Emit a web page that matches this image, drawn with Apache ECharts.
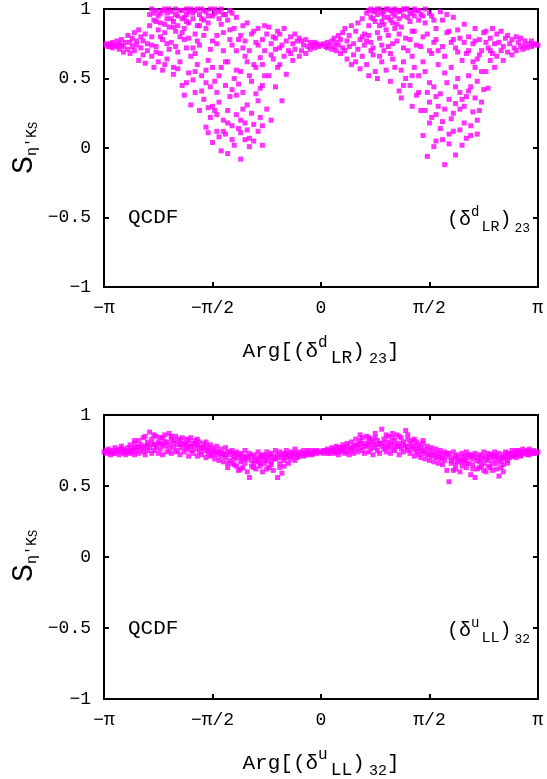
<!DOCTYPE html>
<html>
<head>
<meta charset="utf-8">
<script src="https://cdn.jsdelivr.net/npm/echarts@6/dist/echarts.min.js"></script>
<style>
  html, body { margin: 0; padding: 0; background: #fff; }
  #chart { width: 547px; height: 779px; }
</style>
</head>
<body>
<div id="chart"></div>
<script>
// x values are in units of pi, so -1 .. 1 means -pi .. pi
const xTickLabels = ['−π', '−π/2', '0', 'π/2', 'π']
const yTickLabels = ['−1', '−0.5', '0', '0.5', '1']

// upper panel: (delta^d_LR)_23 scan
const topLeftHalf = [
  [-0.99,0.74],[-0.98,0.73],[-0.97,0.75],[-0.96,0.72],[-0.96,0.76],[-0.95,0.74],[-0.99,0.75],[-0.97,0.73],
  [-0.94,0.77],[-0.93,0.71],[-0.93,0.75],[-0.92,0.78],[-0.91,0.73],[-0.91,0.69],[-0.90,0.76],[-0.94,0.73],[-0.92,0.74],
  [-0.89,0.81],[-0.89,0.71],[-0.88,0.76],[-0.88,0.68],[-0.87,0.79],[-0.87,0.73],[-0.86,0.83],[-0.86,0.70],[-0.85,0.77],[-0.85,0.74],
  [-0.84,0.85],[-0.84,0.63],[-0.83,0.80],[-0.83,0.72],[-0.82,0.67],[-0.82,0.77],[-0.81,0.82],[-0.81,0.61],[-0.80,0.75],[-0.80,0.70],
  [-0.79,0.96],[-0.79,0.88],[-0.78,0.66],[-0.78,0.80],[-0.77,0.92],[-0.77,0.58],[-0.76,0.73],[-0.76,0.99],[-0.75,0.85],[-0.75,0.62],[-0.78,0.74],[-0.76,0.69],
  [-0.74,0.97],[-0.74,0.90],[-0.73,0.78],[-0.73,0.56],[-0.72,1.00],[-0.72,0.83],[-0.71,0.64],[-0.71,0.93],[-0.70,0.71],[-0.70,0.87],[-0.72,0.60],[-0.74,0.68],
  [-0.69,0.98],[-0.69,0.76],[-0.68,0.91],[-0.68,0.58],[-0.67,1.00],[-0.67,0.84],[-0.66,0.69],[-0.66,0.95],[-0.65,0.62],[-0.65,0.80],[-0.68,0.53],[-0.66,0.88],
  [-0.64,0.99],[-0.64,0.45],[-0.63,0.86],[-0.63,0.38],[-0.62,0.96],[-0.62,0.72],[-0.61,0.54],[-0.61,0.90],[-0.60,0.31],[-0.60,0.66],[-0.63,0.78],[-0.62,1.00],
  [-0.59,0.97],[-0.59,0.49],[-0.58,0.82],[-0.58,0.40],[-0.57,1.00],[-0.57,0.60],[-0.56,0.74],[-0.56,0.27],[-0.55,0.93],[-0.55,0.52],[-0.58,0.68],[-0.56,0.88],
  [-0.54,0.99],[-0.54,0.35],[-0.53,0.86],[-0.53,0.15],[-0.52,0.95],[-0.52,0.63],[-0.51,0.44],[-0.51,0.22],[-0.50,0.77],[-0.50,0.04],[-0.53,0.56],[-0.51,1.00],[-0.52,0.29],
  [-0.49,0.97],[-0.49,0.48],[-0.48,0.12],[-0.48,0.81],[-0.47,0.33],[-0.47,0.93],[-0.46,0.58],[-0.46,-0.02],[-0.45,0.70],[-0.45,0.20],[-0.48,0.40],[-0.46,1.00],[-0.47,0.08],[-0.49,0.27],
  [-0.44,0.96],[-0.44,0.10],[-0.43,0.62],[-0.43,-0.04],[-0.42,0.85],[-0.42,0.37],[-0.41,0.16],[-0.41,0.74],[-0.40,0.50],[-0.40,0.02],[-0.43,0.27],[-0.42,0.99],[-0.44,0.45],
  [-0.39,0.94],[-0.39,0.38],[-0.38,0.78],[-0.38,0.14],[-0.37,0.55],[-0.37,-0.08],[-0.36,0.88],[-0.36,0.28],[-0.35,0.66],[-0.35,0.06],[-0.38,0.46],[-0.37,0.20],[-0.36,0.72],
  [-0.34,0.90],[-0.34,0.31],[-0.33,0.70],[-0.33,0.07],[-0.32,0.48],[-0.32,0.82],[-0.31,0.17],[-0.31,0.60],[-0.30,0.39],[-0.30,0.76],[-0.33,0.01],[-0.32,0.25],
  [-0.29,0.86],[-0.29,0.34],[-0.28,0.65],[-0.28,0.22],[-0.27,0.78],[-0.27,0.02],[-0.26,0.52],[-0.26,0.70],[-0.25,0.28],[-0.25,0.82],[-0.28,0.43],
  [-0.24,0.87],[-0.24,0.52],[-0.23,0.75],[-0.23,0.20],[-0.22,0.64],[-0.22,0.80],[-0.21,0.44],[-0.21,0.71],[-0.20,0.58],[-0.20,0.84],
  [-0.19,0.82],[-0.19,0.60],[-0.18,0.74],[-0.18,0.34],[-0.17,0.66],[-0.17,0.86],[-0.16,0.53],[-0.16,0.77],[-0.15,0.70],
  [-0.14,0.80],[-0.14,0.68],[-0.13,0.75],[-0.13,0.63],[-0.12,0.82],[-0.12,0.71],[-0.11,0.77],[-0.10,0.66],[-0.10,0.79],
  [-0.09,0.77],[-0.09,0.70],[-0.08,0.74],[-0.07,0.78],[-0.07,0.68],[-0.06,0.73],[-0.05,0.76],[-0.05,0.71],
  [-0.04,0.74],[-0.03,0.76],[-0.03,0.72],[-0.02,0.75],[-0.01,0.73],[0.00,0.74],
  [-0.78,1.00],[-0.77,0.97],[-0.75,0.95],[-0.73,0.99],[-0.71,0.97],[-0.70,1.00],[-0.69,0.93],[-0.67,0.96],[-0.65,0.99],[-0.64,0.93],
  [-0.62,0.91],[-0.61,0.98],[-0.60,1.00],[-0.59,0.93],[-0.58,0.99],[-0.56,0.96],[-0.55,1.00],[-0.54,0.92],[-0.53,0.98],[-0.50,0.95],
  [-0.49,1.00],[-0.47,0.98],[-0.45,0.96],[-0.43,0.92],[-0.41,0.97],[-0.76,0.91],[-0.72,0.89],[-0.68,0.87],[-0.63,0.94],[-0.57,0.88],
  [-0.52,0.90],[-0.46,0.89],
  [-0.74,0.80],[-0.71,0.75],[-0.67,0.73],[-0.64,0.83],[-0.61,0.79],[-0.59,0.72],[-0.57,0.77],[-0.54,0.81],[-0.51,0.71],[-0.48,0.75],
  [-0.45,0.83],[-0.42,0.78],[-0.40,0.86],[-0.39,0.70],[-0.37,0.81],[-0.35,0.77],[-0.34,0.62],[-0.31,0.84],[-0.29,0.74],[-0.27,0.60],
  [-0.26,0.88],[-0.23,0.67],[-0.21,0.79],[-0.19,0.72],
  [-0.66,0.57],[-0.62,0.47],[-0.58,0.55],[-0.55,0.41],[-0.53,0.47],[-0.50,0.58],[-0.47,0.52],[-0.44,0.62],[-0.41,0.42],[-0.39,0.56],
  [-0.36,0.40],[-0.33,0.52],[-0.30,0.58],[-0.27,0.45],
  [-0.52,0.11],[-0.50,0.30],[-0.48,0.24],[-0.45,0.12],[-0.43,0.18],[-0.41,0.06],[-0.39,0.24],[-0.37,0.11],[-0.35,0.18],[-0.34,0.13],
  [-0.31,0.05],[-0.29,0.12],[-0.27,0.16]
]

const topRightHalf = [
  [0.01,0.75],[0.02,0.73],[0.03,0.76],[0.03,0.72],[0.04,0.74],[0.05,0.77],[0.05,0.71],
  [0.06,0.79],[0.06,0.73],[0.07,0.70],[0.07,0.76],[0.08,0.81],[0.08,0.74],[0.09,0.68],[0.09,0.78],[0.10,0.72],[0.10,0.83],
  [0.11,0.86],[0.11,0.70],[0.12,0.77],[0.12,0.64],[0.13,0.81],[0.13,0.73],[0.14,0.60],[0.14,0.88],[0.15,0.75],[0.15,0.67],
  [0.16,0.84],[0.16,0.62],[0.17,0.90],[0.17,0.71],[0.18,0.78],[0.18,0.57],[0.19,0.93],[0.19,0.66],[0.20,0.82],[0.20,0.74],
  [0.21,0.97],[0.21,0.60],[0.22,0.88],[0.22,0.52],[0.23,1.00],[0.23,0.76],[0.24,0.93],[0.24,0.67],[0.25,0.99],[0.25,0.55],[0.22,0.81],[0.24,0.72],
  [0.26,0.96],[0.26,0.50],[0.27,1.00],[0.27,0.79],[0.28,0.91],[0.28,0.62],[0.29,0.98],[0.29,0.70],[0.30,0.85],[0.30,0.56],[0.27,0.66],[0.29,0.94],
  [0.31,1.00],[0.31,0.73],[0.32,0.92],[0.32,0.48],[0.33,0.97],[0.33,0.64],[0.34,0.86],[0.34,0.58],[0.35,0.99],[0.35,0.77],[0.32,0.68],[0.34,0.95],
  [0.36,0.98],[0.36,0.41],[0.37,0.87],[0.37,0.36],[0.38,1.00],[0.38,0.62],[0.39,0.79],[0.39,0.50],[0.40,0.94],[0.40,0.70],[0.37,0.56],[0.39,1.00],
  [0.41,0.97],[0.41,0.45],[0.42,0.84],[0.42,0.30],[0.43,1.00],[0.43,0.58],[0.44,0.74],[0.44,0.38],[0.45,0.92],[0.45,0.52],[0.42,0.66],[0.44,0.99],
  [0.46,0.96],[0.46,0.27],[0.47,0.80],[0.47,0.09],[0.48,0.55],[0.48,0.90],[0.49,0.40],[0.49,-0.06],[0.50,0.70],[0.50,0.18],[0.47,0.62],[0.48,1.00],[0.50,0.33],
  [0.51,0.95],[0.51,0.22],[0.52,0.76],[0.52,0.44],[0.53,0.86],[0.53,0.05],[0.54,0.60],[0.54,0.30],[0.55,0.98],[0.55,0.14],[0.52,0.01],[0.53,0.37],[0.54,0.70],
  [0.56,0.92],[0.56,0.19],[0.57,0.66],[0.57,-0.12],[0.58,0.47],[0.58,0.83],[0.59,0.10],[0.59,0.35],[0.60,0.58],[0.60,0.76],[0.57,0.28],[0.59,0.03],[0.58,0.96],
  [0.61,0.94],[0.61,0.25],[0.62,0.72],[0.62,-0.05],[0.63,0.50],[0.63,0.85],[0.64,0.13],[0.64,0.40],[0.65,0.63],[0.65,0.02],[0.62,0.32],[0.64,0.79],
  [0.66,0.89],[0.66,0.30],[0.67,0.68],[0.67,0.07],[0.68,0.52],[0.68,0.80],[0.69,0.16],[0.69,0.44],[0.70,0.62],[0.70,0.75],[0.67,0.37],[0.69,0.09],
  [0.71,0.86],[0.71,0.36],[0.72,0.64],[0.72,0.10],[0.73,0.78],[0.73,0.27],[0.74,0.55],[0.74,0.70],[0.75,0.42],[0.75,0.83],[0.72,0.48],
  [0.76,0.84],[0.76,0.55],[0.77,0.72],[0.77,0.43],[0.78,0.79],[0.78,0.63],[0.79,0.86],[0.79,0.68],[0.80,0.75],[0.80,0.58],
  [0.81,0.82],[0.81,0.66],[0.82,0.76],[0.83,0.70],[0.83,0.84],[0.84,0.73],[0.84,0.63],[0.85,0.79],
  [0.86,0.81],[0.86,0.69],[0.87,0.75],[0.88,0.78],[0.88,0.67],[0.89,0.72],[0.90,0.80],[0.90,0.70],
  [0.91,0.76],[0.92,0.73],[0.92,0.79],[0.93,0.71],[0.94,0.77],[0.94,0.74],[0.95,0.72],
  [0.96,0.75],[0.97,0.73],[0.97,0.77],[0.98,0.74],[0.99,0.75],[1.00,0.74],
  [0.22,0.99],[0.23,0.94],[0.24,0.98],[0.25,0.91],[0.26,1.00],[0.28,0.97],[0.29,0.89],[0.30,1.00],[0.31,0.94],[0.32,0.99],
  [0.33,0.90],[0.34,1.00],[0.36,0.93],[0.37,0.99],[0.38,0.95],[0.40,1.00],[0.41,0.91],[0.43,0.95],[0.45,0.99],[0.47,0.95],
  [0.50,0.97],[0.52,0.92],[0.27,0.88],[0.35,0.89],[0.42,0.97],
  [0.19,0.80],[0.21,0.77],[0.23,0.70],[0.26,0.83],[0.28,0.74],[0.31,0.81],[0.33,0.75],[0.36,0.82],[0.38,0.72],[0.41,0.78],
  [0.43,0.84],[0.46,0.73],[0.49,0.82],[0.51,0.68],[0.53,0.78],[0.56,0.73],[0.59,0.84],[0.61,0.78],[0.63,0.69],[0.66,0.76],
  [0.68,0.70],[0.71,0.77],[0.73,0.67],[0.76,0.76],[0.78,0.70],
  [0.38,0.45],[0.42,0.52],[0.45,0.40],[0.48,0.27],[0.50,0.47],[0.53,0.24],[0.55,0.39],[0.57,0.54],[0.60,0.21],[0.62,0.44],
  [0.64,0.28],[0.66,0.18],[0.68,0.41],[0.70,0.26],[0.72,0.20],[0.74,0.33],[0.56,0.06],[0.61,0.12],[0.65,0.35],[0.71,0.58]
]

// lower panel: (delta^u_LL)_32 scan
const bottomLeftHalf = [
  [-1.00,0.74],[-0.99,0.75],[-0.99,0.73],[-0.98,0.76],[-0.97,0.74],[-0.97,0.72],[-0.96,0.75],[-0.95,0.77],[-0.95,0.73],
  [-0.94,0.74],[-0.93,0.76],[-0.93,0.72],[-0.92,0.78],[-0.92,0.74],[-0.91,0.73],[-0.91,0.76],[-0.90,0.75],
  [-0.90,0.72],[-0.89,0.77],[-0.89,0.74],[-0.88,0.79],[-0.88,0.73],[-0.87,0.76],[-0.87,0.74],[-0.86,0.80],
  [-0.86,0.72],[-0.85,0.77],[-0.85,0.75],[-0.84,0.82],[-0.84,0.73],[-0.83,0.79],[-0.83,0.76],[-0.82,0.84],[-0.82,0.74],
  [-0.81,0.78],[-0.81,0.72],[-0.80,0.81],[-0.80,0.75],[-0.79,0.88],[-0.79,0.77],
  [-0.78,0.83],[-0.78,0.73],[-0.77,0.79],[-0.77,0.75],[-0.76,0.85],[-0.76,0.77],
  [-0.75,0.81],[-0.75,0.73],[-0.74,0.84],[-0.74,0.76],[-0.73,0.79],[-0.73,0.72],
  [-0.72,0.86],[-0.72,0.78],[-0.71,0.81],[-0.71,0.74],[-0.70,0.87],[-0.70,0.76],
  [-0.69,0.83],[-0.69,0.73],[-0.68,0.80],[-0.68,0.77],[-0.67,0.85],[-0.67,0.74],
  [-0.66,0.82],[-0.66,0.75],[-0.65,0.79],[-0.65,0.72],[-0.64,0.84],[-0.64,0.77],
  [-0.63,0.80],[-0.63,0.74],[-0.62,0.83],[-0.62,0.76],[-0.61,0.78],[-0.61,0.71],
  [-0.60,0.84],[-0.60,0.75],[-0.59,0.80],[-0.59,0.73],[-0.58,0.82],[-0.58,0.76],
  [-0.57,0.79],[-0.57,0.71],[-0.56,0.81],[-0.56,0.74],[-0.55,0.77],[-0.55,0.72],
  [-0.54,0.80],[-0.54,0.75],[-0.53,0.78],[-0.53,0.70],[-0.52,0.76],[-0.52,0.73],
  [-0.51,0.79],[-0.51,0.71],[-0.50,0.77],[-0.50,0.74],[-0.49,0.75],[-0.49,0.69],
  [-0.48,0.78],[-0.48,0.72],[-0.47,0.74],[-0.47,0.68],[-0.46,0.76],[-0.46,0.71],
  [-0.45,0.73],[-0.45,0.67],[-0.44,0.77],[-0.44,0.70],[-0.43,0.74],[-0.43,0.63],[-0.42,0.72],[-0.42,0.68],
  [-0.41,0.75],[-0.41,0.66],[-0.40,0.71],[-0.40,0.69],[-0.39,0.74],[-0.39,0.64],[-0.38,0.70],[-0.38,0.61],
  [-0.37,0.73],[-0.37,0.67],[-0.36,0.69],[-0.36,0.63],[-0.35,0.75],[-0.35,0.66],[-0.34,0.71],[-0.34,0.60],
  [-0.33,0.73],[-0.33,0.56],[-0.32,0.68],[-0.32,0.64],[-0.31,0.72],[-0.31,0.66],[-0.30,0.70],[-0.30,0.62],
  [-0.29,0.74],[-0.29,0.67],[-0.28,0.69],[-0.28,0.64],[-0.27,0.72],[-0.27,0.60],[-0.26,0.71],[-0.26,0.66],
  [-0.25,0.74],[-0.25,0.68],[-0.24,0.70],[-0.24,0.63],[-0.23,0.73],[-0.23,0.67],[-0.22,0.71],[-0.22,0.61],
  [-0.21,0.75],[-0.21,0.69],[-0.20,0.72],[-0.20,0.56],[-0.19,0.74],[-0.19,0.66],[-0.18,0.70],[-0.18,0.59],
  [-0.17,0.73],[-0.17,0.68],[-0.16,0.75],[-0.16,0.70],[-0.15,0.72],[-0.15,0.66],[-0.14,0.74],[-0.14,0.69],
  [-0.13,0.73],[-0.13,0.71],[-0.12,0.76],[-0.12,0.68],[-0.11,0.72],[-0.11,0.70],[-0.10,0.74],[-0.10,0.71],
  [-0.09,0.73],[-0.08,0.75],[-0.08,0.71],[-0.07,0.72],[-0.06,0.74],[-0.06,0.72],[-0.05,0.73],
  [-0.04,0.75],[-0.04,0.72],[-0.03,0.74],[-0.02,0.73],[-0.02,0.75],[-0.01,0.74]
]

const bottomRightHalf = [
  [0.00,0.74],[0.01,0.75],[0.01,0.73],[0.02,0.74],[0.03,0.76],[0.03,0.73],[0.04,0.75],[0.05,0.77],[0.05,0.74],
  [0.06,0.73],[0.06,0.76],[0.07,0.78],[0.07,0.74],[0.08,0.75],[0.08,0.72],[0.09,0.77],[0.09,0.74],[0.10,0.79],[0.10,0.75],
  [0.11,0.73],[0.11,0.77],[0.12,0.80],[0.12,0.74],[0.13,0.76],[0.13,0.72],[0.14,0.81],[0.14,0.75],[0.15,0.78],[0.15,0.73],
  [0.16,0.83],[0.16,0.76],[0.17,0.79],[0.17,0.74],[0.18,0.82],[0.18,0.77],[0.19,0.84],[0.19,0.75],[0.20,0.80],[0.20,0.73],
  [0.21,0.85],[0.21,0.78],[0.22,0.81],[0.22,0.74],[0.23,0.83],[0.23,0.76],[0.24,0.79],[0.24,0.72],[0.25,0.84],[0.25,0.77],
  [0.26,0.82],[0.26,0.75],[0.27,0.80],[0.27,0.73],[0.28,0.90],[0.28,0.78],[0.29,0.83],[0.29,0.76],[0.30,0.81],[0.30,0.74],
  [0.31,0.85],[0.31,0.77],[0.32,0.79],[0.32,0.73],[0.33,0.84],[0.33,0.76],[0.34,0.82],[0.34,0.75],[0.35,0.86],[0.35,0.78],
  [0.36,0.80],[0.36,0.72],[0.37,0.84],[0.37,0.76],[0.38,0.81],[0.38,0.74],[0.39,0.89],[0.39,0.78],[0.40,0.83],[0.40,0.75],
  [0.41,0.80],[0.41,0.73],[0.42,0.82],[0.42,0.76],[0.43,0.78],[0.43,0.71],[0.44,0.81],[0.44,0.74],[0.45,0.79],[0.45,0.72],
  [0.46,0.77],[0.46,0.70],[0.47,0.80],[0.47,0.73],[0.48,0.76],[0.48,0.69],[0.49,0.78],[0.49,0.72],[0.50,0.75],[0.50,0.68],
  [0.51,0.77],[0.51,0.71],[0.52,0.74],[0.52,0.67],[0.53,0.76],[0.53,0.70],[0.54,0.73],[0.54,0.66],[0.55,0.75],[0.55,0.69],
  [0.56,0.72],[0.56,0.65],[0.57,0.74],[0.57,0.68],[0.58,0.71],[0.58,0.61],[0.59,0.73],[0.59,0.53],[0.60,0.70],[0.60,0.66],
  [0.61,0.74],[0.61,0.61],[0.62,0.69],[0.62,0.65],[0.63,0.72],[0.63,0.67],[0.64,0.70],[0.64,0.60],[0.65,0.73],[0.65,0.64],
  [0.66,0.71],[0.66,0.68],[0.67,0.74],[0.67,0.63],[0.68,0.70],[0.68,0.66],[0.69,0.72],[0.69,0.58],[0.70,0.69],[0.70,0.65],
  [0.71,0.73],[0.71,0.56],[0.72,0.70],[0.72,0.62],[0.73,0.72],[0.73,0.67],[0.74,0.69],[0.74,0.64],[0.75,0.74],[0.75,0.66],
  [0.76,0.71],[0.76,0.60],[0.77,0.73],[0.77,0.68],[0.78,0.70],[0.78,0.63],[0.79,0.72],[0.79,0.66],[0.80,0.74],[0.80,0.69],
  [0.81,0.71],[0.81,0.62],[0.82,0.73],[0.82,0.57],[0.83,0.70],[0.83,0.67],[0.84,0.72],[0.84,0.65],[0.85,0.74],[0.85,0.69],
  [0.86,0.71],[0.86,0.68],[0.87,0.73],[0.87,0.70],[0.88,0.75],[0.88,0.72],[0.89,0.71],[0.89,0.74],[0.90,0.73],[0.90,0.70],
  [0.91,0.75],[0.91,0.72],[0.92,0.74],[0.92,0.71],[0.93,0.76],[0.93,0.73],[0.94,0.74],[0.95,0.72],[0.95,0.75],
  [0.96,0.74],[0.96,0.76],[0.97,0.73],[0.98,0.75],[0.98,0.74],[0.99,0.73],[1.00,0.74]
]

// extra points filling the dense core of the lower band
const bottomCore = [
  [-0.98,0.74],[-0.96,0.73],[-0.94,0.75],[-0.92,0.76],[-0.90,0.74],[-0.88,0.75],[-0.86,0.77],[-0.84,0.78],[-0.82,0.77],[-0.80,0.79],
  [-0.78,0.80],[-0.76,0.79],[-0.74,0.80],[-0.72,0.81],[-0.70,0.79],[-0.68,0.82],[-0.66,0.79],[-0.64,0.80],[-0.62,0.79],[-0.60,0.78],
  [-0.58,0.79],[-0.56,0.77],[-0.54,0.77],[-0.52,0.75],[-0.50,0.72],[-0.48,0.74],[-0.46,0.73],[-0.44,0.72],[-0.42,0.74],[-0.40,0.73],
  [-0.38,0.72],[-0.36,0.71],[-0.34,0.69],[-0.32,0.71],[-0.30,0.68],[-0.28,0.71],[-0.26,0.69],[-0.24,0.72],[-0.22,0.69],[-0.20,0.70],
  [-0.18,0.72],[-0.16,0.72],[-0.14,0.71],[-0.12,0.73],[-0.10,0.72],[-0.08,0.73],[-0.06,0.75],[-0.04,0.73],[-0.02,0.74],
  [0.02,0.75],[0.04,0.73],[0.06,0.75],[0.08,0.77],[0.10,0.76],[0.12,0.78],[0.14,0.77],[0.16,0.79],[0.18,0.80],[0.20,0.78],
  [0.22,0.79],[0.24,0.81],[0.26,0.79],[0.28,0.80],[0.30,0.78],[0.32,0.81],[0.34,0.79],[0.36,0.78],[0.38,0.79],[0.40,0.77],
  [0.42,0.78],[0.44,0.76],[0.46,0.75],[0.48,0.74],[0.50,0.72],[0.52,0.72],[0.54,0.71],[0.56,0.70],[0.58,0.73],[0.60,0.68],
  [0.62,0.71],[0.64,0.68],[0.66,0.69],[0.68,0.72],[0.70,0.71],[0.72,0.68],[0.74,0.71],[0.76,0.69],[0.78,0.72],[0.80,0.71],
  [0.82,0.69],[0.84,0.70],[0.86,0.73],[0.88,0.71],[0.90,0.75],[0.92,0.72],[0.94,0.73],[0.96,0.72],[0.98,0.73],
  [-0.40,0.65],[-0.37,0.62],[-0.35,0.70],[-0.31,0.63],[-0.28,0.66],[-0.25,0.62],[-0.23,0.65],[-0.19,0.63],[-0.17,0.64],[-0.43,0.66],
  [0.62,0.62],[0.65,0.67],[0.67,0.66],[0.70,0.62],[0.73,0.63],[0.75,0.61],[0.77,0.64],[0.79,0.61],[0.81,0.66],[0.83,0.63],
  [0.86,0.66],[0.84,0.60],
  [-0.86,0.82],[-0.81,0.85],[-0.77,0.86],[-0.73,0.84],[-0.69,0.85],[-0.65,0.83],[-0.61,0.82],[-0.57,0.83],[-0.53,0.81],
  [0.18,0.86],[0.22,0.84],[0.25,0.87],[0.30,0.86],[0.33,0.87],[0.36,0.85],[0.40,0.86],[0.43,0.83],[0.47,0.82]
]

const FONT = '"Liberation Mono", "DejaVu Sans Mono", monospace'
const MAGENTA = '#ff00ff'

const chart = echarts.init(document.getElementById('chart'))

function xAxes(gridIndex) {
  const base = {
    type: 'value', gridIndex: gridIndex, min: -1, max: 1, interval: 0.5,
    axisLine: { show: true, onZero: false, lineStyle: { color: '#000', width: 2 } },
    axisTick: { show: true, inside: true, length: 5, lineStyle: { color: '#000', width: 2 } },
    splitLine: { show: false }
  }
  return [
    Object.assign({}, base, {
      position: 'bottom',
      axisLabel: {
        show: true, margin: 12, color: '#000', fontFamily: FONT, fontSize: 18,
        formatter: function (v) { return xTickLabels[Math.round((v + 1) / 0.5)] }
      }
    }),
    Object.assign({}, base, { position: 'top', axisLabel: { show: false } })
  ]
}

function yAxes(gridIndex) {
  const base = {
    type: 'value', gridIndex: gridIndex, min: -1, max: 1, interval: 0.5,
    axisLine: { show: true, onZero: false, lineStyle: { color: '#000', width: 2 } },
    axisTick: { show: true, inside: true, length: 5, lineStyle: { color: '#000', width: 2 } },
    splitLine: { show: false }
  }
  return [
    Object.assign({}, base, {
      position: 'left',
      axisLabel: {
        show: true, margin: 13, color: '#000', fontFamily: FONT, fontSize: 18,
        formatter: function (v) { return yTickLabels[Math.round((v + 1) / 0.5)] }
      }
    }),
    Object.assign({}, base, { position: 'right', axisLabel: { show: false } })
  ]
}

// axis title below each panel
const titleRich = {
  n: { fontFamily: FONT, fontSize: 21, lineHeight: 32, color: '#000' },
  sup: { fontFamily: FONT, fontSize: 16, lineHeight: 15, verticalAlign: 'top', color: '#000' },
  sub: { fontFamily: FONT, fontSize: 18, lineHeight: 15, verticalAlign: 'bottom', padding: [0, 0, 0, 3], color: '#000' },
  idx: { fontFamily: FONT, fontSize: 15, lineHeight: 14, verticalAlign: 'bottom', padding: [0, 0, 0, 4], color: '#000' }
}

// label in the lower right corner of each panel
const cornerRich = {
  n: { fontFamily: FONT, fontSize: 20, lineHeight: 30, color: '#000' },
  sup: { fontFamily: FONT, fontSize: 14, lineHeight: 14, verticalAlign: 'top', color: '#000' },
  sub: { fontFamily: FONT, fontSize: 15, lineHeight: 13, verticalAlign: 'bottom', padding: [0, 0, 0, 2], color: '#000' },
  idx: { fontFamily: FONT, fontSize: 13, lineHeight: 12, verticalAlign: 'bottom', padding: [0, 0, 0, 3], color: '#000' }
}

const yRich = {
  big: { fontFamily: FONT, fontSize: 30, lineHeight: 32, color: '#000' },
  s1: { fontFamily: FONT, fontSize: 15, lineHeight: 16, verticalAlign: 'bottom', color: '#000' },
  s2: { fontFamily: FONT, fontSize: 12, lineHeight: 10, verticalAlign: 'bottom', color: '#000' }
}

function panelTexts(top, h, sup, sub, idx) {
  const mathText = '(δ}{sup|' + sup + '}{sub|' + sub + '}{n|)}{idx|' + idx + '}'
  return [
    {
      type: 'text', x: 24, y: top + 141, rotation: Math.PI / 2, z: 10,
      style: {
        text: '{big|S}{s1|η\'K}{s2|S}', rich: yRich,
        align: 'center', verticalAlign: 'middle'
      }
    },
    {
      type: 'text', x: 128, y: top + h * 0.75, z: 10,
      style: {
        text: 'QCDF', fontFamily: FONT, fontSize: 21, fill: '#000',
        align: 'left', verticalAlign: 'middle'
      }
    },
    {
      type: 'text', x: 447, y: top + h * 0.76, z: 10,
      style: {
        text: '{n|' + mathText, rich: cornerRich,
        align: 'left', verticalAlign: 'middle'
      }
    },
    {
      type: 'text', x: 321, y: top + h + 64, z: 10,
      style: {
        text: '{n|Arg[' + mathText + '{n|]}', rich: titleRich,
        align: 'center', verticalAlign: 'middle'
      }
    }
  ]
}

chart.setOption({
  animation: false,
  backgroundColor: '#fff',
  grid: [
    { left: 104, top: 7, width: 434, height: 280 },
    { left: 104, top: 415, width: 434, height: 284 }
  ],
  xAxis: xAxes(0).concat(xAxes(1)),
  yAxis: yAxes(0).concat(yAxes(1)),
  series: [
    {
      type: 'scatter', xAxisIndex: 0, yAxisIndex: 0, clip: false,
      symbol: 'rect', symbolSize: 5,
      itemStyle: { color: MAGENTA },
      data: topLeftHalf.concat(topRightHalf)
    },
    {
      type: 'scatter', xAxisIndex: 2, yAxisIndex: 2, clip: false,
      symbol: 'rect', symbolSize: 5,
      itemStyle: { color: MAGENTA },
      data: bottomLeftHalf.concat(bottomRightHalf, bottomCore)
    }
  ],
  graphic: panelTexts(7, 280, 'd', 'LR', '23').concat(panelTexts(415, 284, 'u', 'LL', '32'))
})
</script>
</body>
</html>
